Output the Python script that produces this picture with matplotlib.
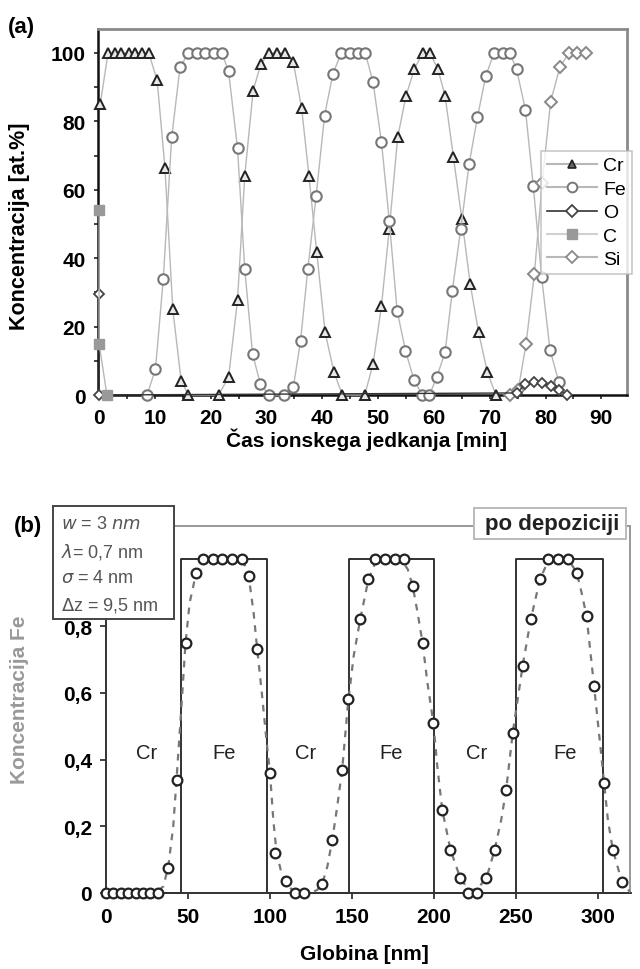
import matplotlib
matplotlib.use("Agg")
import matplotlib.pyplot as plt
from matplotlib.lines import Line2D
from matplotlib.patches import Rectangle
from matplotlib.ticker import MultipleLocator, FuncFormatter

plt.rcParams['font.family'] = ['Liberation Sans', 'DejaVu Sans']

# ---------------- Panel (a) data ----------------
cr_t = [0.2, 1.6, 2.8, 4.0, 5.3, 6.5, 7.7, 8.9, 10.4, 11.8, 13.2, 14.7, 16.0, 21.4, 23.2, 24.8,
        26.1, 27.6, 29.0, 30.5, 31.8, 33.3, 34.8, 36.3, 37.6, 39.0, 40.5, 42.1, 43.6, 47.6, 49.1,
        50.6, 52.0, 53.5, 55.0, 56.5, 58.0, 59.3, 60.7, 62.0, 63.5, 65.0, 66.5, 68.0, 69.6, 71.1]
cr_c = [85, 100, 100, 100, 100, 100, 100, 100, 92, 66.4, 25.1, 4.2, 0, 0, 5.2, 27.7,
        64.1, 89, 96.8, 100, 100, 100, 97.3, 83.8, 64.1, 41.7, 18.3, 6.6, 0, 0, 9.1,
        26.1, 48.5, 75.3, 87.5, 95.3, 100, 100, 95.3, 87.5, 69.5, 51.5, 32.5, 18.3, 6.6, 0]

fe_t = [8.6, 10.1, 11.5, 13.0, 14.5, 16.0, 17.5, 19.0, 20.5, 22.0, 23.2, 24.8, 26.1, 27.5, 28.9,
        30.5, 33.2, 34.8, 36.1, 37.4, 38.9, 40.4, 41.9, 43.4, 44.9, 46.4, 47.7, 49.1, 50.6, 52.0,
        53.4, 54.9, 56.4, 57.9, 59.2, 60.5, 62.0, 63.3, 64.8, 66.3, 67.8, 69.3, 70.8, 72.3, 73.6,
        74.8, 76.4, 77.8, 79.3, 80.8, 82.4]
fe_c = [0, 7.6, 33.9, 75.3, 95.8, 100, 100, 100, 100, 100, 94.6, 72.2, 36.8, 12.0, 3.2,
        0, 0, 2.2, 15.9, 36.8, 58.3, 81.7, 93.9, 100, 100, 100, 100, 91.4, 73.9, 51.0,
        24.7, 13.0, 4.5, 0, 0, 5.2, 12.5, 30.5, 48.5, 67.5, 81.2, 93.4, 100, 100, 100,
        95.3, 83.4, 61.2, 34.5, 13.2, 3.7]

o_t = [0.0, 0.0, 74.9, 76.4, 77.9, 79.4, 80.9, 82.4, 83.9]
o_c = [29.5, 0, 0.6, 3.2, 3.7, 3.5, 2.6, 1.5, 0]

c_t = [0.0, 0.0, 1.4]
c_c = [54, 15, 0]

si_t = [73.6, 75.1, 76.5, 78.0, 79.4, 80.9, 82.6, 84.2, 85.6, 87.2]
si_c = [0, 1.5, 14.8, 35.4, 62.0, 85.7, 96.0, 100, 100, 100]

# ---------------- Panel (b) data ----------------
meas_z = [0, 4.5, 9, 13.5, 18, 22.5, 27, 31.5, 38, 43, 48.5, 55, 59, 65, 71, 77, 83, 87, 92,
          100, 103, 110, 115, 121, 132, 138, 144, 147.6, 155, 160, 164, 170, 176, 182, 187,
          193, 199.6, 205, 210, 216, 221, 226, 232, 237, 244, 248, 254, 259, 264.6, 269.7,
          275.8, 281.9, 287, 293, 297.6, 303.7, 309, 314.6]
meas_c = [0, 0, 0, 0, 0, 0, 0, 0, 0.075, 0.34, 0.75, 0.96, 1.0, 1.0, 1.0, 1.0, 1.0, 0.95, 0.73,
          0.36, 0.12, 0.035, 0.0, 0.0, 0.027, 0.16, 0.37, 0.58, 0.82, 0.94, 1.0, 1.0, 1.0, 1.0, 0.92,
          0.75, 0.51, 0.25, 0.13, 0.045, 0.0, 0.0, 0.045, 0.13, 0.31, 0.48, 0.68, 0.82, 0.94, 1.0,
          1.0, 1.0, 0.96, 0.83, 0.62, 0.33, 0.13, 0.033]

model_z = [0, 30, 35, 38, 41, 43, 46, 48.5, 51, 55, 60, 64, 80, 84, 87, 90, 92, 95, 98, 100,
           102, 104, 107, 110, 115, 125, 129, 132, 135, 138, 141, 144, 147.6, 151, 155, 160,
           165, 180, 184, 187, 190, 193, 196, 199.6, 202, 205, 210, 216, 221, 226, 232, 237,
           241, 244, 248, 251, 254, 259, 264.6, 270, 282, 287, 290, 293, 297.6, 301, 303.7,
           306, 309, 314.6, 320]
model_c = [0, 0, 0.02, 0.08, 0.2, 0.34, 0.56, 0.75, 0.87, 0.96, 0.99, 1.0, 1.0, 0.99, 0.95,
           0.84, 0.74, 0.6, 0.45, 0.36, 0.22, 0.12, 0.06, 0.03, 0.0, 0.0, 0.01, 0.03, 0.08,
           0.16, 0.26, 0.37, 0.57, 0.71, 0.82, 0.94, 1.0, 1.0, 0.97, 0.92, 0.84, 0.75, 0.63,
           0.51, 0.38, 0.25, 0.13, 0.045, 0.01, 0.01, 0.045, 0.13, 0.22, 0.31, 0.48, 0.58,
           0.68, 0.82, 0.94, 1.0, 1.0, 0.96, 0.9, 0.83, 0.62, 0.46, 0.33, 0.22, 0.13, 0.033, 0.0]

box_z = [0, 46, 46, 98, 98, 148, 148, 200, 200, 250, 250, 303, 303, 320]
box_c = [0, 0, 1, 1, 0, 0, 1, 1, 0, 0, 1, 1, 0, 0]

layer_names = ["Cr", "Fe", "Cr", "Fe", "Cr", "Fe"]
layer_x = [25, 72, 122, 174, 226, 280]

param_lines = ["$w$ = 3 $nm$", "$\\lambda$= 0,7 nm", "$\\sigma$ = 4 nm", "$\\Delta$z = 9,5 nm"]

W, H = 640, 970
fig = plt.figure(figsize=(W / 100, H / 100), dpi=100)

def fx(px):
    return px / W

def fy(py):
    return 1 - py / H

# ---------------- Panel (a) ----------------
axa = fig.add_axes([fx(98), fy(396), fx(627) - fx(98), fy(30) - fy(396)])
axa.set_xlim(-0.2, 94.6)
axa.set_ylim(0, 107)

line_gray = '#b8b8b8'
axa.plot(cr_t, cr_c, color=line_gray, lw=1.0, marker='^', ms=6.5, mfc='#e8e8e8',
         mec='#222222', mew=1.4, clip_on=False, zorder=3, label='Cr')
axa.plot(fe_t, fe_c, color=line_gray, lw=1.0, marker='o', ms=7.5, mfc='white',
         mec='#777777', mew=1.5, clip_on=False, zorder=3, label='Fe')
axa.plot(o_t, o_c, color='#333333', lw=1.0, marker='D', ms=5.5, mfc='white',
         mec='#444444', mew=1.3, clip_on=False, zorder=4, label='O')
axa.plot(c_t, c_c, color=line_gray, lw=1.0, marker='s', ms=7, mfc='#999999',
         mec='#999999', mew=1.0, clip_on=False, zorder=4, label='C')
axa.plot(si_t, si_c, color=line_gray, lw=1.0, marker='D', ms=6, mfc='white',
         mec='#888888', mew=1.4, clip_on=False, zorder=3, label='Si')

axa.xaxis.set_major_locator(MultipleLocator(10))
axa.xaxis.set_minor_locator(MultipleLocator(5))
axa.yaxis.set_major_locator(MultipleLocator(20))
axa.yaxis.set_minor_locator(MultipleLocator(10))
axa.tick_params(which='both', direction='out', length=3, width=1.2, color='#222222')
axa.tick_params(which='major', labelsize=15, pad=6)
for lab in axa.get_xticklabels() + axa.get_yticklabels():
    lab.set_fontweight('bold')
for s in ['left', 'bottom']:
    axa.spines[s].set_color('#111111')
    axa.spines[s].set_linewidth(1.8)
for s in ['top', 'right']:
    axa.spines[s].set_color('#8a8a8a')
    axa.spines[s].set_linewidth(2.0)

axa.set_xlabel('Čas ionskega jedkanja [min]', fontsize=15, fontweight='bold')
axa.set_ylabel('Koncentracija [at.%]', fontsize=15.5, fontweight='bold')
axa.xaxis.set_label_coords(0.507, -0.088)
axa.yaxis.set_label_coords(-0.128, 0.464)

handles = [
    Line2D([], [], color=line_gray, lw=1.5, marker='^', ms=6, mfc='#666666', mec='#222222', mew=1.2),
    Line2D([], [], color=line_gray, lw=1.5, marker='o', ms=7, mfc='white', mec='#777777', mew=1.4),
    Line2D([], [], color='#333333', lw=1.2, marker='D', ms=6, mfc='white', mec='#444444', mew=1.3),
    Line2D([], [], color='#d0d0d0', lw=1.5, marker='s', ms=7, mfc='#999999', mec='#999999'),
    Line2D([], [], color=line_gray, lw=1.5, marker='D', ms=6, mfc='white', mec='#888888', mew=1.3),
]
leg = fig.legend(handles, ['Cr', 'Fe', 'O', 'C', 'Si'], loc='upper left',
                 bbox_to_anchor=(fx(541), fy(152)), fontsize=14, frameon=True,
                 fancybox=False, edgecolor='#bbbbbb', handlelength=2.6, handletextpad=0.3,
                 labelspacing=0.3, borderpad=0.3, borderaxespad=0)
leg.get_frame().set_linewidth(1.2)

fig.text(fx(8), fy(28), '(a)', fontsize=16, fontweight='bold', va='center', ha='left')

# ---------------- Panel (b) ----------------
axb = fig.add_axes([fx(106), fy(894), fx(630) - fx(106), fy(527) - fy(894)])
axb.set_xlim(0, 319.5)
axb.set_ylim(0, 1.1)

axb.plot(box_z, box_c, color='#222222', lw=1.3, zorder=2, clip_on=False)
axb.plot(model_z, model_c, color='#777777', lw=1.6, ls=(0, (3, 3)), zorder=3)
axb.plot(meas_z, meas_c, ls='none', marker='o', ms=7, mfc='white', mec='#222222',
         mew=1.6, zorder=4, clip_on=False)

for name, x in zip(layer_names, layer_x):
    axb.text(x, 0.42, name, fontsize=14.5, ha='center', va='center', color='#222222')

def fmt_b(v, p):
    if abs(v - 1.0) < 1e-6:
        return ''
    return ('%g' % round(v, 2)).replace('.', ',')

axb.xaxis.set_major_locator(MultipleLocator(50))
axb.yaxis.set_major_locator(MultipleLocator(0.2))
axb.yaxis.set_major_formatter(FuncFormatter(fmt_b))
axb.tick_params(which='both', direction='out', length=4, width=1.2, color='#222222')
axb.tick_params(which='major', labelsize=15, pad=6)
for lab in axb.get_xticklabels() + axb.get_yticklabels():
    lab.set_fontweight('bold')
for s in ['left', 'bottom']:
    axb.spines[s].set_color('#333333')
    axb.spines[s].set_linewidth(1.4)
for s in ['top', 'right']:
    axb.spines[s].set_color('#999999')
    axb.spines[s].set_linewidth(1.4)

axb.set_xlabel('Globina [nm]', fontsize=15, fontweight='bold')
axb.set_ylabel('Koncentracija Fe', fontsize=15, fontweight='bold', color='#999999')
axb.xaxis.set_label_coords(0.494, -0.138)
axb.yaxis.set_label_coords(-0.147, 0.53)

# parameter box
fig.patches.append(Rectangle((fx(53), fy(620)), fx(174) - fx(53), fy(507) - fy(620),
                             transform=fig.transFigure, facecolor='white',
                             edgecolor='#444444', lw=1.4, zorder=5))
for i, t in enumerate(param_lines):
    fig.text(fx(61), fy(525 + i * 26.7), t, fontsize=13, color='#555555',
             va='center', ha='left', zorder=6)

# "po depoziciji" box
fig.patches.append(Rectangle((fx(474), fy(540)), fx(626) - fx(474), fy(509) - fy(540),
                             transform=fig.transFigure, facecolor='white',
                             edgecolor='#bbbbbb', lw=1.4, zorder=5))
fig.text(fx(552), fy(525), 'po depoziciji', fontsize=16, fontweight='bold',
         color='#222222', ha='center', va='center', zorder=6)

fig.text(fx(14), fy(527), '(b)', fontsize=16, fontweight='bold', va='center', ha='left')

fig.savefig('out.png', dpi=100)
